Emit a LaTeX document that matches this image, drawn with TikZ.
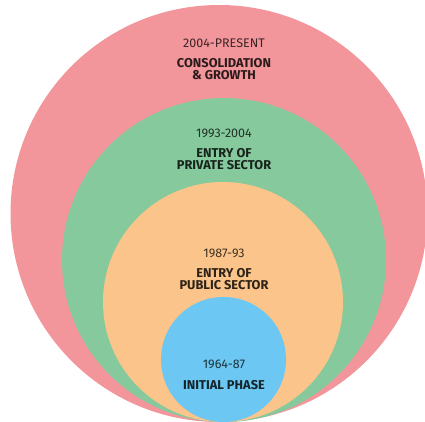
\documentclass[tikz,border=0pt]{standalone}
\usepackage{fontspec}
\setmainfont{Fira Sans}
\definecolor{phasered}{RGB}{242,150,155}
\definecolor{phasegreen}{RGB}{133,201,156}
\definecolor{phaseorange}{RGB}{251,196,138}
\definecolor{phaseblue}{RGB}{108,200,242}
\begin{document}
\begin{tikzpicture}[x=1pt,y=-1pt,
  ring/.style={circle,inner sep=0pt,minimum size=#1},
  yearlabel/.style={font=\fontsize{12.5}{12}\selectfont,text=black,text opacity=0.75,inner sep=0pt},
  phaselabel/.style={font=\fontsize{12.8}{12.2}\selectfont\bfseries,text=black,text opacity=0.82,align=center,inner sep=0pt}]
\useasboundingbox (0,0) rectangle (425,421);
% nested phase circles, all touching at the bottom
\node[ring=417pt,fill=phasered]    (red)    at (219,213.5) {};
\node[ring=324pt,fill=phasegreen]  (green)  at (224,260) {};
\node[ring=240pt,fill=phaseorange] (orange) at (223,302) {};
\node[ring=125pt,fill=phaseblue]   (blue)   at (223.5,359.5) {};
% labels
\node[yearlabel]  (y4) at (224,43)  {2004-PRESENT};
\node[phaselabel] (p4) at (224,69)  {CONSOLIDATION\\\& GROWTH};
\node[yearlabel]  (y3) at (224,133) {1993-2004};
\node[phaselabel] (p3) at (224,159) {ENTRY OF\\PRIVATE SECTOR};
\node[yearlabel]  (y2) at (224,253) {1987-93};
\node[phaselabel] (p2) at (224,279) {ENTRY OF\\PUBLIC SECTOR};
\node[yearlabel]  (y1) at (224,364) {1964-87};
\node[phaselabel] (p1) at (224,385) {INITIAL PHASE};
\end{tikzpicture}
\end{document}
